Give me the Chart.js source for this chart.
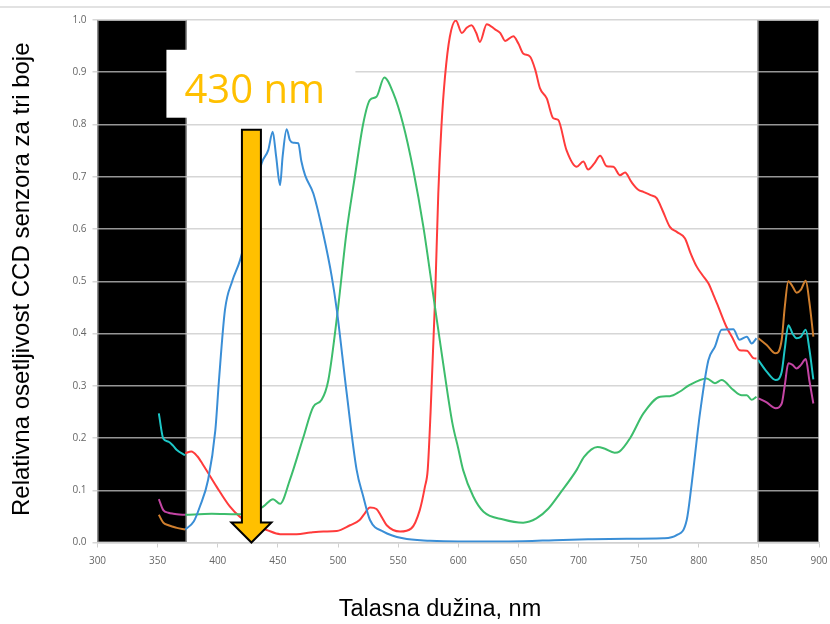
<!DOCTYPE html>
<html>
<head>
<meta charset="utf-8">
<script src="https://cdn.jsdelivr.net/npm/chart.js@4.4.1/dist/chart.umd.min.js"></script>
<style>
  html, body { margin: 0; padding: 0; background: #fff; }
  #wrap { width: 830px; height: 624px; }
</style>
</head>
<body>
<div id="wrap"><canvas id="chart" width="830" height="624"></canvas></div>
<script>
// Values: wavelength (nm) and relative sensitivity
const blueNm = [373, 380, 385, 392, 398, 401, 406, 412, 418.5, 425, 431, 436.5, 442, 445.7, 448.5, 451.8, 454, 457.3, 460, 462.8, 467, 469.5, 472.6, 479.5, 487.8, 494.8, 499, 507, 515.5, 521, 526.6, 537.7, 554, 576.5, 600, 642, 687, 708, 740, 770.5, 781.6, 790, 794, 801, 808, 813.5, 819, 828.7, 834, 840, 844, 848];
const blueVal = [0.025, 0.04, 0.068, 0.12, 0.215, 0.31, 0.445, 0.5, 0.54, 0.6, 0.67, 0.726, 0.751, 0.786, 0.74, 0.684, 0.74, 0.791, 0.77, 0.765, 0.764, 0.73, 0.703, 0.668, 0.59, 0.509, 0.445, 0.29, 0.139, 0.088, 0.043, 0.021, 0.008, 0.0035, 0.002, 0.002, 0.005, 0.006, 0.007, 0.008, 0.014, 0.043, 0.11, 0.247, 0.349, 0.375, 0.407, 0.408, 0.388, 0.394, 0.381, 0.391];

const greenNm = [373, 395, 416, 430, 438, 446, 451.8, 460, 471, 479.5, 486.4, 492, 500, 507, 514, 521, 526.6, 532, 538.5, 546, 554, 562.6, 571, 579, 587, 595, 600, 604, 612.5, 621, 637.5, 654, 665, 675, 684.6, 698.5, 704.6, 715.8, 721.5, 730, 734, 743, 754, 768, 776, 784.4, 791.3, 806.6, 813.5, 819, 828.7, 835.7, 840, 844, 848];
const greenVal = [0.053, 0.055, 0.054, 0.058, 0.069, 0.083, 0.074, 0.12, 0.2, 0.26, 0.273, 0.311, 0.448, 0.592, 0.7, 0.802, 0.847, 0.853, 0.89, 0.86, 0.802, 0.713, 0.604, 0.477, 0.35, 0.23, 0.18, 0.139, 0.088, 0.059, 0.044, 0.038, 0.046, 0.065, 0.094, 0.139, 0.164, 0.183, 0.18, 0.172, 0.174, 0.2, 0.247, 0.279, 0.28, 0.289, 0.3, 0.314, 0.305, 0.311, 0.292, 0.282, 0.282, 0.273, 0.279];

const redNm = [373, 378, 383, 388, 399, 410, 418.5, 430, 440.7, 451.8, 465.6, 477, 487.8, 499, 510, 518, 522, 526.6, 532, 536, 540.5, 551.6, 561, 568, 572.3, 574.6, 577, 580.7, 583.4, 586, 589, 593, 598, 603, 607, 611, 615, 618, 623.7, 630.6, 635, 639, 645.8, 650, 654, 659.7, 664, 668, 673.6, 679, 683, 690, 698.5, 704, 708, 713, 718, 723.5, 729, 734.5, 738.7, 744, 749.7, 754, 760, 765, 770, 776, 782, 788.6, 793, 798.3, 803, 808, 812, 816.3, 823, 828, 834, 840, 845.4, 848];
const redVal = [0.171, 0.174, 0.165, 0.148, 0.107, 0.069, 0.049, 0.033, 0.024, 0.016, 0.016, 0.019, 0.021, 0.022, 0.033, 0.043, 0.055, 0.067, 0.064, 0.05, 0.033, 0.021, 0.027, 0.062, 0.107, 0.139, 0.25, 0.464, 0.668, 0.796, 0.892, 0.968, 0.999, 0.975, 0.985, 0.99, 0.975, 0.958, 0.992, 0.982, 0.975, 0.96, 0.969, 0.955, 0.936, 0.93, 0.905, 0.869, 0.85, 0.812, 0.809, 0.751, 0.719, 0.729, 0.714, 0.725, 0.74, 0.72, 0.719, 0.703, 0.708, 0.69, 0.675, 0.671, 0.665, 0.659, 0.635, 0.604, 0.594, 0.582, 0.555, 0.528, 0.512, 0.496, 0.475, 0.451, 0.413, 0.392, 0.368, 0.367, 0.353, 0.352];

// short traces inside the masked bands
const leftNm = [351, 354.7, 359, 363, 366, 372.8];
const leftCyan = [0.247, 0.199, 0.193, 0.185, 0.177, 0.167];
const leftMagenta = [0.083, 0.062, 0.057, 0.055, 0.054, 0.053];
const leftOrange = [0.053, 0.038, 0.033, 0.03, 0.028, 0.025];

const rightNm = [849.6, 856.5, 864, 869, 871.5, 874.5, 878, 881.4, 885, 889, 892, 895.3];
const rightOrange = [0.391, 0.378, 0.362, 0.388, 0.45, 0.5, 0.49, 0.478, 0.484, 0.501, 0.46, 0.394];
const rightCyan = [0.349, 0.327, 0.311, 0.327, 0.37, 0.416, 0.4, 0.391, 0.394, 0.407, 0.37, 0.312];
const rightMagenta = [0.276, 0.268, 0.257, 0.266, 0.3, 0.343, 0.34, 0.333, 0.34, 0.351, 0.31, 0.266];

const maskedBands = [[300, 374], [849, 900]];
const markerNm = 428;
const markerTop = 0.79;
const markerLabel = '430 nm';
const xTitle = 'Talasna dužina, nm';
const yTitle = 'Relativna osetljivost CCD senzora za tri boje';

const COLORS = {
    blue: '#3a8ed6',
    green: '#3dbd6c',
    red: '#ff3b3b',
    orange: '#d07f2e',
    cyan: '#1cc6c6',
    magenta: '#c445a4',
    marker: '#ffc000'
};

function points(nm, val) {
    return nm.map((x, i) => ({ x, y: val[i] }));
}

function line(data, color) {
    return {
        data,
        borderColor: color,
        borderWidth: 2,
        pointRadius: 0,
        cubicInterpolationMode: 'monotone',
        fill: false
    };
}

const overlay = {
    id: 'overlay',
    beforeDraw(chart) {
        const { ctx, chartArea: a, scales: { x } } = chart;
        ctx.save();
        ctx.fillStyle = '#fff';
        ctx.fillRect(0, 0, chart.width, chart.height);
        ctx.strokeStyle = '#d9d9d9';
        ctx.lineWidth = 1.5;
        ctx.beginPath();
        ctx.moveTo(0, 7);
        ctx.lineTo(chart.width, 7);
        ctx.stroke();
        maskedBands.forEach(([from, to]) => {
            const l = x.getPixelForValue(from);
            const r = x.getPixelForValue(to);
            ctx.fillStyle = '#000';
            ctx.fillRect(l, a.top, r - l, a.bottom - a.top);
            ctx.strokeStyle = '#9a9a9a';
            ctx.lineWidth = 1;
            ctx.strokeRect(l + 0.5, a.top + 0.5, r - l - 1, a.bottom - a.top - 1);
        });
        ctx.restore();
    },
    afterDraw(chart) {
        const { ctx, chartArea: a, scales: { x, y } } = chart;
        ctx.save();

        // arrow pointing at the marked wavelength
        const cx = x.getPixelForValue(markerNm);
        const top = y.getPixelForValue(markerTop);
        const tip = y.getPixelForValue(0);
        const half = 9.5, headHalf = 20, headH = 20;
        ctx.beginPath();
        ctx.moveTo(cx - half, top);
        ctx.lineTo(cx + half, top);
        ctx.lineTo(cx + half, tip - headH);
        ctx.lineTo(cx + headHalf, tip - headH);
        ctx.lineTo(cx, tip);
        ctx.lineTo(cx - headHalf, tip - headH);
        ctx.lineTo(cx - half, tip - headH);
        ctx.closePath();
        ctx.fillStyle = COLORS.marker;
        ctx.fill();
        ctx.strokeStyle = '#000';
        ctx.lineWidth = 2;
        ctx.lineJoin = 'miter';
        ctx.stroke();

        // label box
        const boxTop = y.getPixelForValue(0.943);
        const boxBottom = y.getPixelForValue(0.813);
        ctx.fillStyle = '#fff';
        ctx.fillRect(cx - 85, boxTop, 189, boxBottom - boxTop);
        ctx.fillStyle = COLORS.marker;
        ctx.font = '40px "Open Sans"';
        ctx.textAlign = 'left';
        ctx.textBaseline = 'alphabetic';
        ctx.fillText(markerLabel, cx - 67, boxBottom - 15);

        // axis titles
        ctx.fillStyle = '#000';
        ctx.textAlign = 'center';
        ctx.textBaseline = 'middle';
        ctx.font = '23.5px "Liberation Sans", Arial';
        ctx.fillText(xTitle, 440, 610);
        ctx.font = '24px "Liberation Sans", Arial';
        ctx.translate(22.5, (a.top + a.bottom) / 2 - 2);
        ctx.rotate(-Math.PI / 2);
        ctx.fillText(yTitle, 0, 0);
        ctx.restore();
    }
};

const tickFont = { family: '"Open Sans"', size: 10 };

new Chart(document.getElementById('chart'), {
    type: 'line',
    data: {
        datasets: [
            line(points(blueNm, blueVal), COLORS.blue),
            line(points(greenNm, greenVal), COLORS.green),
            line(points(redNm, redVal), COLORS.red),
            line(points(leftNm, leftCyan), COLORS.cyan),
            line(points(leftNm, leftMagenta), COLORS.magenta),
            line(points(leftNm, leftOrange), COLORS.orange),
            line(points(rightNm, rightOrange), COLORS.orange),
            line(points(rightNm, rightCyan), COLORS.cyan),
            line(points(rightNm, rightMagenta), COLORS.magenta)
        ]
    },
    options: {
        responsive: false,
        animation: false,
        devicePixelRatio: 1,
        layout: { padding: { top: 20, right: 11, bottom: 0, left: 0 } },
        plugins: { legend: { display: false }, tooltip: { enabled: false } },
        scales: {
            x: {
                type: 'linear',
                min: 300,
                max: 900,
                afterFit: (s) => {
                    s.height = 81.5;
                    s.paddingLeft = 0;
                    s.paddingRight = 0;
                },
                ticks: { stepSize: 50, font: tickFont, color: '#666', padding: 8, maxRotation: 0 },
                grid: { drawOnChartArea: false, drawTicks: true, tickLength: 5, tickColor: '#d0d0d0' },
                border: { display: true, color: '#d0d0d0', width: 1.5 }
            },
            y: {
                min: 0,
                max: 1,
                afterFit: (s) => { s.width = 97.5; },
                ticks: { stepSize: 0.1, font: tickFont, color: '#666', padding: 6, callback: (v) => v.toFixed(1) },
                grid: { color: 'rgba(200,200,200,0.75)', lineWidth: 1.5, tickLength: 5 },
                border: { display: false }
            }
        }
    },
    plugins: [overlay]
});
</script>
</body>
</html>
